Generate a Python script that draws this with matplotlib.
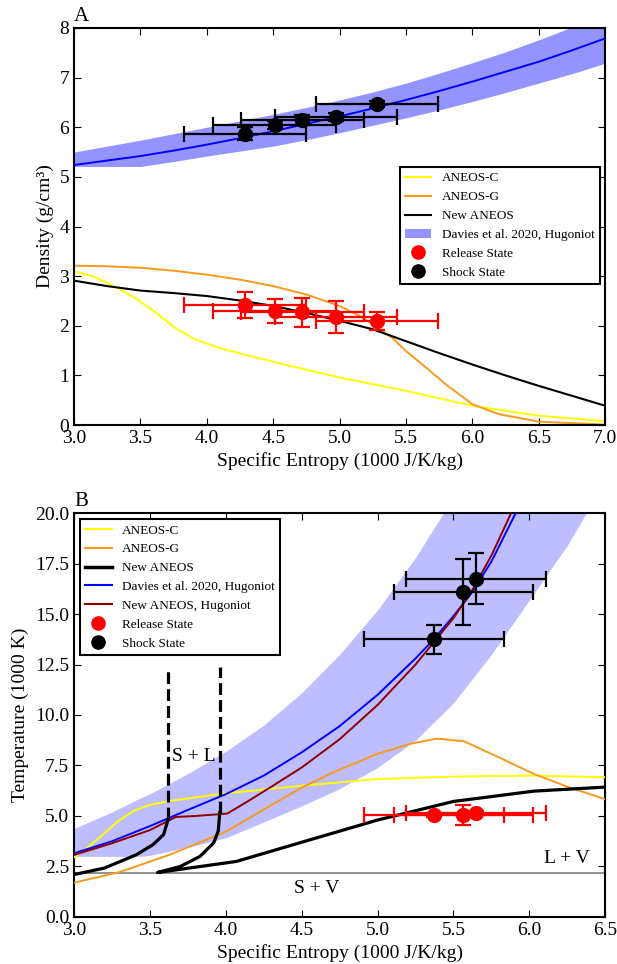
import matplotlib
matplotlib.use('Agg')
import matplotlib.pyplot as plt
from matplotlib.lines import Line2D
from matplotlib.patches import Patch

plt.rcParams['font.family'] = 'serif'
plt.rcParams['font.serif'] = ['Liberation Serif', 'DejaVu Serif']
plt.rcParams['xtick.direction'] = 'in'
plt.rcParams['ytick.direction'] = 'in'
plt.rcParams['xtick.top'] = True
plt.rcParams['ytick.right'] = True
plt.rcParams['xtick.major.size'] = 5
plt.rcParams['ytick.major.size'] = 5
plt.rcParams['axes.linewidth'] = 1.5

# --- panel A: density vs entropy ---
s_dav = [3.0, 3.25, 3.5, 3.75, 4.0, 4.25, 4.5, 4.75, 5.0, 5.25, 5.5, 5.75, 6.0, 6.25, 6.5, 6.75, 7.0]
rho_dav = [5.24, 5.33, 5.42, 5.53, 5.65, 5.78, 5.92, 6.07, 6.22, 6.38, 6.55, 6.73, 6.92, 7.12, 7.32, 7.55, 7.79]
rho_dav_hi = [5.50, 5.62, 5.74, 5.87, 6.00, 6.13, 6.26, 6.40, 6.55, 6.71, 6.89, 7.09, 7.30, 7.52, 7.76, 8.02, 8.30]
rho_dav_lo = [5.21, 5.21, 5.21, 5.31, 5.42, 5.52, 5.62, 5.75, 5.89, 6.04, 6.19, 6.35, 6.52, 6.70, 6.89, 7.08, 7.29]

s_c_a = [3.0, 3.15, 3.3, 3.45, 3.6, 3.75, 3.9, 4.1, 4.3, 4.6, 5.0, 5.5, 6.0, 6.5, 7.0]
rho_c = [3.10, 2.99, 2.80, 2.58, 2.30, 1.98, 1.74, 1.55, 1.41, 1.21, 0.96, 0.69, 0.39, 0.19, 0.08]

s_g_a = [3.0, 3.25, 3.5, 3.75, 4.0, 4.25, 4.5, 4.75, 5.0, 5.15, 5.29, 5.4, 5.5, 5.65, 5.8, 6.0, 6.2, 6.5, 7.0]
rho_g = [3.21, 3.20, 3.17, 3.11, 3.03, 2.93, 2.80, 2.63, 2.40, 2.20, 1.96, 1.75, 1.49, 1.16, 0.82, 0.42, 0.22, 0.07, 0.01]

s_new_a = [3.0, 3.25, 3.5, 3.75, 4.0, 4.25, 4.5, 4.75, 5.0, 5.25, 5.5, 5.75, 6.0, 6.25, 6.5, 6.75, 7.0]
rho_new = [2.91, 2.80, 2.71, 2.66, 2.60, 2.51, 2.40, 2.26, 2.10, 1.93, 1.69, 1.45, 1.22, 1.00, 0.79, 0.59, 0.39]

s_meas_a = [4.29, 4.51, 4.72, 4.97, 5.28]
rho_shock = [5.87, 6.05, 6.15, 6.21, 6.47]
rho_shock_err = [0.13, 0.08, 0.10, 0.08, 0.06]
rho_release = [2.42, 2.30, 2.27, 2.18, 2.09]
rho_release_err = [0.27, 0.24, 0.30, 0.32, 0.18]
s_err = 0.46

# --- panel B: temperature vs entropy ---
s_band = [3.0, 3.25, 3.44, 3.5, 3.75, 4.0, 4.25, 4.5, 4.75, 5.0, 5.25, 5.5, 5.75, 6.0, 6.25, 6.5]
T_band_hi = [4.38, 5.2, 5.9, 6.1, 7.1, 8.2, 9.5, 11.1, 13.0, 15.2, 17.8, 20.8, 24.2, 28.0, 32.0, 36.0]
T_band_lo = [3.0, 3.0, 3.0, 3.05, 3.45, 3.92, 4.7, 5.5, 6.35, 7.4, 8.75, 10.6, 13.0, 15.7, 18.4, 21.6]

s_dav_b = [3.0, 3.25, 3.5, 3.75, 4.0, 4.25, 4.5, 4.75, 5.0, 5.25, 5.37, 5.5, 5.625, 5.75, 5.91]
T_dav = [3.15, 3.75, 4.5, 5.3, 6.08, 7.0, 8.15, 9.45, 11.0, 12.8, 13.75, 14.9, 16.1, 17.6, 20.0]

s_hug_b = [3.0, 3.25, 3.5, 3.67, 3.8, 4.01, 4.15, 4.3, 4.5, 4.75, 5.0, 5.25, 5.37, 5.5, 5.625, 5.75, 5.88]
T_hug = [3.07, 3.65, 4.3, 4.95, 5.0, 5.12, 5.75, 6.45, 7.4, 8.8, 10.5, 12.5, 13.6, 14.8, 16.2, 17.9, 20.0]

s_c_b = [3.0, 3.1, 3.2, 3.3, 3.4, 3.5, 3.63, 3.8, 4.0, 4.5, 5.0, 5.5, 6.0, 6.5]
T_c = [2.95, 3.5, 4.15, 4.8, 5.28, 5.55, 5.74, 5.92, 6.12, 6.5, 6.83, 6.95, 7.0, 6.92]

s_g_b = [3.0, 3.3, 3.63, 4.0, 4.29, 4.5, 4.71, 5.0, 5.22, 5.39, 5.57, 5.8, 6.03, 6.25, 6.5]
T_g = [1.7, 2.22, 3.08, 4.22, 5.5, 6.4, 7.17, 8.08, 8.58, 8.83, 8.7, 7.9, 7.08, 6.45, 5.83]

# New ANEOS phase boundaries
s_sol = [3.0, 3.2, 3.41, 3.52, 3.59, 3.62]
T_sol = [2.1, 2.42, 3.08, 3.58, 4.08, 4.83]
s_liq = [3.96, 3.95, 3.92, 3.83, 3.70, 3.55, 4.07, 4.5, 5.0, 5.5, 6.03, 6.5]
T_liq = [5.17, 4.25, 3.67, 3.0, 2.5, 2.2, 2.75, 3.7, 4.8, 5.72, 6.23, 6.43]
s_melt_dash = [3.62, 3.96]
T_melt_bottom = [4.83, 5.17]
T_melt_top = 12.4
T_triple = 2.2

s_meas_b = [5.37, 5.565, 5.65]
T_shock = [13.75, 16.08, 16.75]
T_shock_err = [0.71, 1.63, 1.25]
T_release = [5.05, 5.05, 5.17]
T_release_err = [0.1, 0.5, 0.08]

fig = plt.figure(figsize=(6.17, 9.64), dpi=100)
axA = fig.add_axes([0.12, 0.559, 0.861, 0.412])
axB = fig.add_axes([0.12, 0.0488, 0.861, 0.419])

eb_kw = dict(fmt='o', markersize=10, elinewidth=1.6, capsize=6, capthick=1.6, zorder=6)

# A
axA.fill_between(s_dav, rho_dav_lo, rho_dav_hi, color='blue', alpha=0.42, linewidth=0, zorder=1)
axA.plot(s_dav, rho_dav, color='blue', lw=1.4, zorder=3)
axA.plot(s_c_a, rho_c, color='yellow', lw=1.4, zorder=2)
axA.plot(s_g_a, rho_g, color='#f79a1e', lw=1.4, zorder=2)
axA.plot(s_new_a, rho_new, color='black', lw=1.5, zorder=2)
axA.errorbar(s_meas_a, rho_shock, xerr=s_err, yerr=rho_shock_err, color='black', **eb_kw)
axA.errorbar(s_meas_a, rho_release, xerr=s_err, yerr=rho_release_err, color='red', **eb_kw)

axA.set_xlim(3.0, 7.0)
axA.set_ylim(0, 8)
axA.set_xticks([3.0, 3.5, 4.0, 4.5, 5.0, 5.5, 6.0, 6.5, 7.0])
axA.set_xlabel('Specific Entropy (1000 J/K/kg)', fontsize=14)
axA.set_ylabel('Density (g/cm³)', fontsize=14)
axA.tick_params(labelsize=14)
axA.text(0.0, 1.005, 'A', transform=axA.transAxes, fontsize=15, ha='left', va='bottom')

handles_a = [
    Line2D([], [], color='yellow', lw=1.5),
    Line2D([], [], color='#f79a1e', lw=1.5),
    Line2D([], [], color='black', lw=1.5),
    Patch(facecolor='blue', alpha=0.42, edgecolor='none'),
    Line2D([], [], color='red', marker='o', ls='none', markersize=9.5),
    Line2D([], [], color='black', marker='o', ls='none', markersize=9.5),
]
labels_a = ['ANEOS-C', 'ANEOS-G', 'New ANEOS', 'Davies et al. 2020, Hugoniot', 'Release State', 'Shock State']
leg = axA.legend(handles_a, labels_a, loc='upper right', bbox_to_anchor=(0.99, 0.65), borderaxespad=0,
                 fontsize=9.5, fancybox=False, framealpha=1, edgecolor='black')
leg.get_frame().set_linewidth(1.5)

# B
axB.fill_between(s_band, T_band_lo, T_band_hi, color='blue', alpha=0.26, linewidth=0, zorder=1)
axB.axhline(T_triple, color='#888888', lw=1.3, zorder=2)
axB.plot(s_c_b, T_c, color='yellow', lw=1.4, zorder=3)
axB.plot(s_g_b, T_g, color='#f79a1e', lw=1.4, zorder=3)
axB.plot(s_dav_b, T_dav, color='blue', lw=1.4, zorder=3)
axB.plot(s_hug_b, T_hug, color='darkred', lw=1.4, zorder=3)
axB.plot(s_sol, T_sol, color='black', lw=2.3, zorder=4)
axB.plot(s_liq, T_liq, color='black', lw=2.3, zorder=4)
axB.vlines(s_melt_dash, T_melt_bottom, T_melt_top, colors='black', lw=2.3, linestyles='--', zorder=4)
axB.errorbar(s_meas_b, T_shock, xerr=s_err, yerr=T_shock_err, color='black', **eb_kw)
axB.errorbar(s_meas_b, T_release, xerr=s_err, yerr=T_release_err, color='red', **eb_kw)

axB.text(3.79, 7.95, 'S + L', fontsize=14, ha='center', va='center')
axB.text(4.60, 1.42, 'S + V', fontsize=14, ha='center', va='center')
axB.text(6.25, 2.87, 'L + V', fontsize=14, ha='center', va='center')

axB.set_xlim(3.0, 6.5)
axB.set_ylim(0, 20)
axB.set_yticks([0, 2.5, 5, 7.5, 10, 12.5, 15, 17.5, 20])
axB.set_xlabel('Specific Entropy (1000 J/K/kg)', fontsize=14)
axB.set_ylabel('Temperature (1000 K)', fontsize=14)
axB.tick_params(labelsize=14)
axB.text(0.0, 1.005, 'B', transform=axB.transAxes, fontsize=15, ha='left', va='bottom')

handles_b = [
    Line2D([], [], color='yellow', lw=1.5),
    Line2D([], [], color='#f79a1e', lw=1.5),
    Line2D([], [], color='black', lw=2.5),
    Line2D([], [], color='blue', lw=1.5),
    Line2D([], [], color='darkred', lw=1.5),
    Line2D([], [], color='red', marker='o', ls='none', markersize=9.5),
    Line2D([], [], color='black', marker='o', ls='none', markersize=9.5),
]
labels_b = ['ANEOS-C', 'ANEOS-G', 'New ANEOS', 'Davies et al. 2020, Hugoniot', 'New ANEOS, Hugoniot',
            'Release State', 'Shock State']
leg = axB.legend(handles_b, labels_b, loc='upper left', bbox_to_anchor=(0.011, 0.985), borderaxespad=0,
                 fontsize=9.5, fancybox=False, framealpha=1, edgecolor='black')
leg.get_frame().set_linewidth(1.5)

fig.savefig('out.png', dpi=100)
